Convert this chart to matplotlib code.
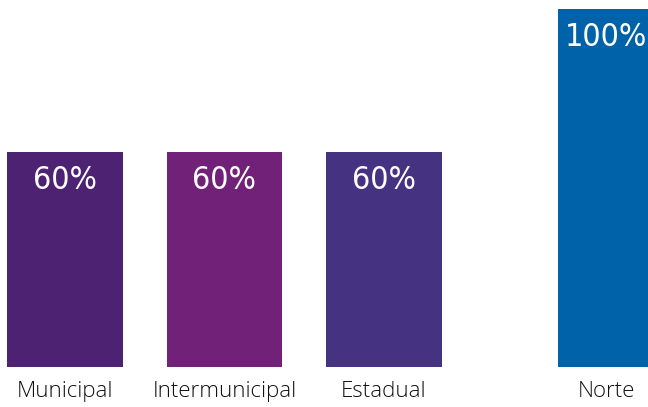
import matplotlib
matplotlib.use("Agg")
import matplotlib.pyplot as plt

categories = ["Municipal", "Intermunicipal", "Estadual", "Norte"]
values = [60, 60, 60, 100]
value_labels = ["60%", "60%", "60%", "100%"]
colors = ["#4E2273", "#722178", "#453382", "#0062A8"]

# bar centres: three grouped bars, then a separated regional bar
bar_x = [0, 1, 2, 3.455]
label_x = [0, 1, 2, 3.397]
value_x = [0, 1, 2, 3.39]
bar_w = 0.727

fig = plt.figure(figsize=(6.48, 4.07), dpi=100)
ax = fig.add_axes([0, 40 / 407, 1, 358 / 407])
ax.bar(bar_x, values, width=bar_w, color=colors, linewidth=0)

ax.set_xlim(-65 / 159.5, -65 / 159.5 + 648 / 159.5)
ax.set_ylim(0, 100)
ax.axis("off")

for x, v, s in zip(value_x, values, value_labels):
    ax.text(x, v - 3.6, s, ha="center", va="top", color="white",
            fontsize=23, family="DejaVu Sans", fontstretch="condensed",
            fontweight="light")

for x, c in zip(label_x, categories):
    ax.text(x, -4.0, c, ha="center", va="top", color="#111111",
            fontsize=16, family=["Open Sans", "DejaVu Sans"], fontweight="light")

fig.savefig("out.png", dpi=100)
